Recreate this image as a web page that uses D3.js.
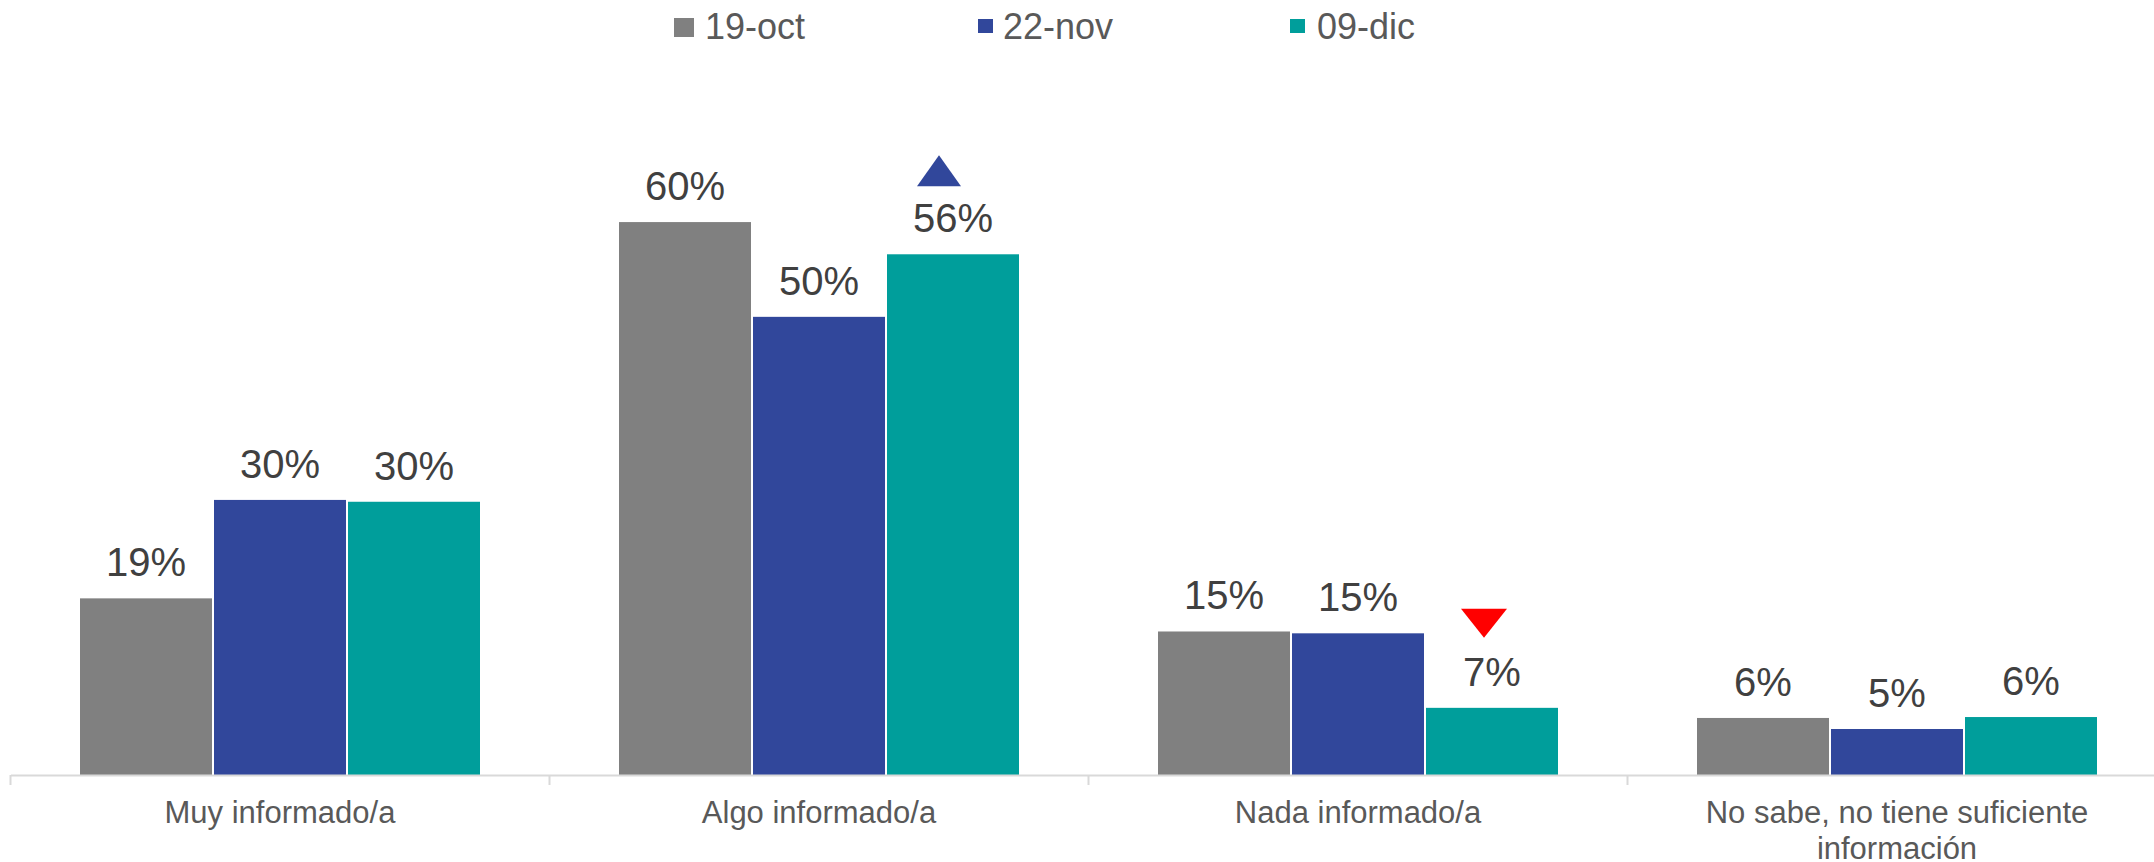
<!DOCTYPE html>
<html>
<head>
<meta charset="utf-8">
<script src="https://cdn.jsdelivr.net/npm/d3@7"></script>
<style>
  body { margin: 0; background: #fff; }
  svg { display: block; font-family: "Liberation Sans", Arial, sans-serif; }
</style>
</head>
<body>
<svg id="chart" width="2154" height="862"></svg>
<script>
// data
var categories = ["Muy informado/a", "Algo informado/a", "Nada informado/a", "No sabe, no tiene suficiente información"];
var series = ["19-oct", "22-nov", "09-dic"];
var colors = ["#808080", "#31479b", "#009e9b"];
var oct19 = [19.2, 60.1, 15.6, 6.2];
var nov22 = [29.9, 49.8, 15.4, 5.0];
var dic09 = [29.7, 56.6, 7.3, 6.3];
var labels = [["19%", "60%", "15%", "6%"], ["30%", "50%", "15%", "5%"], ["30%", "56%", "7%", "6%"]];
// change arrows: category index, series index, direction
var arrows = [{cat: 1, s: 2, dir: "up", color: "#31479b"}, {cat: 2, s: 2, dir: "down", color: "#ff0000"}];

var values = [oct19, nov22, dic09];

var svg = d3.select("#chart");
var baseY = 775;

// scales
var x0 = d3.scaleBand().domain(categories).range([10.5, 2166.5]).padding(0);
var x1 = d3.scaleBand().domain(series).range([68.5, 470.5]).padding(0);
var y = d3.scaleLinear().domain([0, 60]).range([baseY, baseY - 552]);

// bars
var g = svg.append("g");
categories.forEach(function(c, ci) {
  series.forEach(function(s, si) {
    var v = values[si][ci];
    g.append("rect")
      .attr("x", x0(c) + x1(s) + 1)
      .attr("y", y(v))
      .attr("width", x1.bandwidth() - 2)
      .attr("height", y(0) - y(v))
      .attr("fill", colors[si]);
    g.append("text")
      .attr("x", x0(c) + x1(s) + x1.bandwidth() / 2)
      .attr("y", y(v) - 22)
      .attr("text-anchor", "middle")
      .attr("font-size", "40px")
      .attr("fill", "#404040")
      .text(labels[si][ci]);
  });
});

// axis
var axis = d3.axisBottom(x0).tickSize(0).tickFormat("");
var axisG = svg.append("g")
  .attr("transform", "translate(0," + baseY + ")")
  .call(axis);
axisG.select(".domain").attr("stroke", "#d9d9d9").attr("stroke-width", 2);
categories.forEach(function(c) {
  axisG.append("line")
    .attr("x1", x0(c)).attr("x2", x0(c))
    .attr("y1", 0).attr("y2", 10)
    .attr("stroke", "#d9d9d9").attr("stroke-width", 2);
});

// category labels (wrap)
categories.forEach(function(c) {
  var lines = c.length > 20 ? ["No sabe, no tiene suficiente", "información"] : [c];
  var t = svg.append("text")
    .attr("x", x0(c) + x0.bandwidth() / 2)
    .attr("y", 823)
    .attr("text-anchor", "middle")
    .attr("font-size", "31px")
    .attr("fill", "#595959");
  lines.forEach(function(l, i) {
    t.append("tspan")
      .attr("x", x0(c) + x0.bandwidth() / 2)
      .attr("dy", i === 0 ? 0 : 36)
      .text(l);
  });
});

// arrows
arrows.forEach(function(a) {
  var s = series[a.s];
  var c = categories[a.cat];
  var v = values[a.s][a.cat];
  var cx = x0(c) + x1(s) + x1.bandwidth() / 2;
  var top = y(v);
  var pts;
  if (a.dir === "up") {
    cx -= 14;
    var b = top - 68, h = 31;
    pts = [[cx - 22, b], [cx + 22, b], [cx, b - h]];
  } else {
    cx -= 8;
    var t0 = top - 99, h2 = 29;
    pts = [[cx - 23, t0], [cx + 23, t0], [cx, t0 + h2]];
  }
  svg.append("path")
    .attr("d", d3.line()(pts) + "Z")
    .attr("fill", a.color);
});

// legend
var legendItems = [
  {x: 674, y: 18, w: 20, h: 19, tx: 705},
  {x: 978, y: 19, w: 15, h: 14, tx: 1003},
  {x: 1290, y: 19, w: 15, h: 14, tx: 1317}
];
series.forEach(function(s, i) {
  var it = legendItems[i];
  svg.append("rect")
    .attr("x", it.x)
    .attr("y", it.y)
    .attr("width", it.w)
    .attr("height", it.h)
    .attr("fill", colors[i]);
  svg.append("text")
    .attr("x", it.tx)
    .attr("y", 39)
    .attr("font-size", "36px")
    .attr("fill", "#595959")
    .text(s);
});
</script>
</body>
</html>
